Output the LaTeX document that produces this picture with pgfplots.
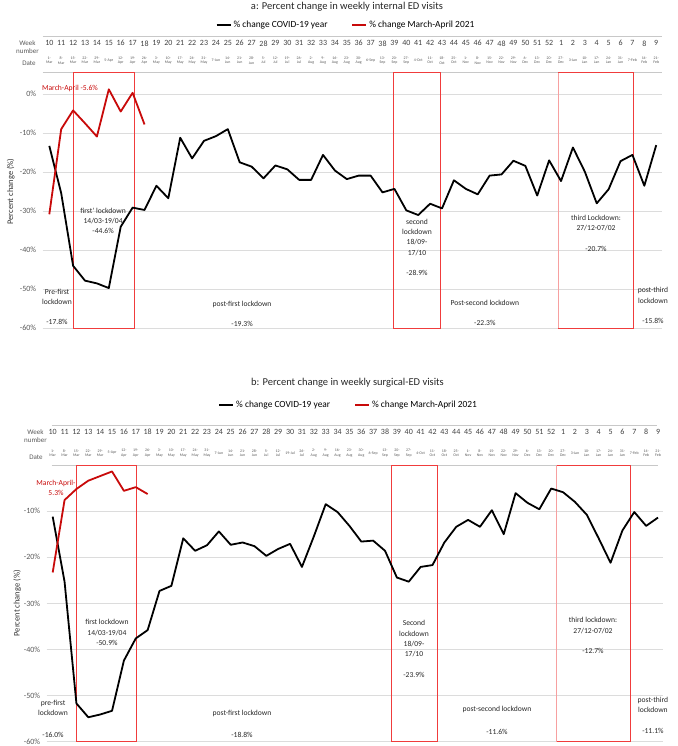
\documentclass[border=0pt]{standalone}
\usepackage{pgfplots}
\pgfplotsset{compat=1.18}
\usepackage{pgfplotstable}
\usepackage{fontspec}
\setmainfont{Carlito}

\definecolor{covidred}{HTML}{C80A0A}
\definecolor{boxred}{HTML}{F03C3C}
\definecolor{boxpink}{HTML}{F7A0A0}
\definecolor{gridgray}{HTML}{DCDCDC}
\definecolor{txtgray}{HTML}{595959}
\definecolor{hdrgray}{HTML}{C8C8C8}

% week index 0 = week 10 (1 Mar 2020) ... 51 = week 9 (21 Feb 2021)
\pgfplotstableread{
i  pct
0  -13.3
1  -25.4
2  -44.0
3  -47.8
4  -48.5
5  -49.7
6  -34.0
7  -29.1
8  -29.7
9  -23.5
10 -26.7
11 -11.2
12 -16.5
13 -12.0
14 -10.8
15 -9.0
16 -17.5
17 -18.6
18 -21.6
19 -18.3
20 -19.3
21 -22.0
22 -22.0
23 -15.6
24 -19.6
25 -21.8
26 -20.9
27 -20.9
28 -25.2
29 -24.3
30 -29.8
31 -31.0
32 -28.1
33 -29.3
34 -22.1
35 -24.3
36 -25.7
37 -20.9
38 -20.6
39 -17.1
40 -18.4
41 -26.0
42 -17.0
43 -22.3
44 -13.7
45 -19.9
46 -28.0
47 -24.4
48 -17.2
49 -15.6
50 -23.5
51 -13.1
}\internalcovid

\pgfplotstableread{
i  pct
0  -30.8
1  -9.0
2  -4.2
3  -7.5
4  -10.9
5  1.2
6  -4.5
7  0.3
8  -7.8
}\internalnew

\pgfplotstableread{
i  pct
0  -11.2
1  -25.3
2  -51.7
3  -54.7
4  -54.1
5  -53.3
6  -42.4
7  -37.6
8  -35.8
9  -27.3
10 -26.2
11 -15.9
12 -18.6
13 -17.4
14 -14.4
15 -17.3
16 -16.8
17 -17.6
18 -19.7
19 -18.2
20 -17.1
21 -22.1
22 -15.5
23 -8.5
24 -10.2
25 -13.2
26 -16.6
27 -16.4
28 -18.6
29 -24.4
30 -25.3
31 -22.1
32 -21.7
33 -16.8
34 -13.4
35 -11.9
36 -13.4
37 -9.8
38 -15.0
39 -6.1
40 -8.2
41 -9.6
42 -5.1
43 -5.9
44 -8.0
45 -10.8
46 -15.9
47 -21.2
48 -14.2
49 -10.2
50 -13.2
51 -11.4
}\surgicalcovid

\pgfplotstableread{
i  pct
0  -23.3
1  -7.6
2  -5.2
3  -3.4
4  -2.4
5  -1.4
6  -5.6
7  -4.8
8  -6.3
}\surgicalnew

\pgfplotsset{
  base/.style={
    scale only axis, clip=false,
    axis line style={draw=none},
    major tick length=0pt,
    xtick={0,...,51},
    xticklabel pos=upper,
  },
  mainaxis/.style={
    base,
    ymin=-60,
    yticklabel style={font=\fontsize{8}{9}\selectfont, text=txtgray, xshift=-3pt},
    ymajorgrids, grid style={gridgray, line width=0.9pt},
    xticklabel style={font=\fontsize{3.9}{4.4}\selectfont, text=txtgray, align=center, anchor=center},
    ylabel={Percent change (\%)},
    ylabel style={font=\fontsize{8.5}{10}\selectfont, text=black!80},
    legend columns=2,
    legend style={draw=none, fill=none, font=\fontsize{9.4}{11}\selectfont,
      /tikz/every even column/.append style={column sep=22pt}},
    legend image code/.code={\draw[#1] (0pt,0pt) -- (14pt,0pt);},
  },
  weekaxis/.style={
    base,
    ymin=0, ymax=1, ytick=\empty,
    xticklabel style={font=\fontsize{8}{9}\selectfont, text=black!75, anchor=center},
    xticklabels={10,11,12,13,14,15,16,17,18,19,20,21,22,23,24,25,26,27,28,29,30,31,
      32,33,34,35,36,37,38,39,40,41,42,43,44,45,46,47,48,49,50,51,52,1,2,3,4,5,6,7,8,9},
  },
  covid/.style={black, line width=1.8pt, line join=round},
  recent/.style={covidred, line width=1.8pt, line join=round},
}
\tikzset{
  lockbox/.style={boxred, line width=0.7pt},
  note/.style={font=\fontsize{7.6}{10.3}\selectfont, align=center, text=black!85},
}

\begin{document}
\begin{tikzpicture}
\path[use as bounding box] (0pt,0pt) rectangle (677pt,-746pt);

% ---------------- panel a ----------------
\node[font=\fontsize{10.5}{12}\selectfont, text=black!85] at (347pt,-7pt)
  {a: Percent change in weekly internal ED visits};
\draw[hdrgray, line width=0.9pt] (42.7pt,-36pt) -- (661.7pt,-36pt);
\draw[hdrgray, line width=0.9pt] (42.7pt,-72.7pt) -- (661.7pt,-72.7pt);
\node[font=\fontsize{7}{8}\selectfont, text=txtgray, align=center] at (27.5pt,-47pt) {Week\\number};
\node[font=\fontsize{7}{8}\selectfont, text=txtgray] at (29pt,-63pt) {Date};

\begin{axis}[weekaxis, at={(42.7pt,-328.3pt)}, anchor=south west,
  width=619pt, height=255.6pt, xmin=-0.555, xmax=51.46,
  xticklabel style={yshift=29.4pt}]
\end{axis}

\begin{axis}[mainaxis, at={(42.7pt,-328.3pt)}, anchor=south west,
  width=619pt, height=255.6pt, xmin=-0.555, xmax=51.46, ymax=5.45,
  ytick={0,-10,-20,-30,-40,-50,-60},
  yticklabels={0\%,-10\%,-20\%,-30\%,-40\%,-50\%,-60\%},
  xticklabels={{1-\\Mar},{8-\\Mar},{15-\\Mar},{22-\\Mar},{29-\\Mar},{5-Apr},{12-\\Apr},{19-\\Apr},{26-\\Apr},
    {3-\\May},{10-\\May},{17-\\May},{24-\\May},{31-\\May},{7-Jun},{14-\\Jun},{21-\\Jun},{28-\\Jun},
    {5-\\Jul},{12-\\Jul},{19-\\Jul},{26-\\Jul},{2-\\Aug},{9-\\Aug},{16-\\Aug},{23-\\Aug},{30-\\Aug},
    {6-Sep},{13-\\Sep},{20-\\Sep},{27-\\Sep},{4-Oct},{11-\\Oct},{18-\\Oct},{25-\\Oct},
    {1-\\Nov},{8-\\Nov},{15-\\Nov},{22-\\Nov},{29-\\Nov},{6-\\Dec},{13-\\Dec},{20-\\Dec},{27-\\Dec},
    {3-Jan},{10-\\Jan},{17-\\Jan},{24-\\Jan},{31-\\Jan},{7-Feb},{14-\\Feb},{21-\\Feb}},
  xticklabel style={yshift=12.2pt},
  ylabel style={at={(ticklabel cs:0.535,-1.5pt)}},
  legend style={at={(0.49,1.187)}, anchor=center}]

\draw[lockbox] (axis cs:2.02,5.45) rectangle (axis cs:7.14,-60);
\draw[lockbox] (axis cs:28.9,5.45) rectangle (axis cs:32.9,-60);
\draw[lockbox] (axis cs:42.8,5.45) rectangle (axis cs:49.08,-60);
\draw[boxpink, line width=0.7pt] (axis cs:42.8,5.45) -- (axis cs:42.8,-60);

\addplot[covid] table[x=i, y=pct] {\internalcovid};
\addlegendentry{\% change COVID-19 year}
\addplot[recent] table[x=i, y=pct] {\internalnew};
\addlegendentry{\% change March-April 2021}

\node[note, text=covidred] at (axis cs:1.74,1.46) {March-April -5.6\%};
\node[note] at (axis cs:0.65,-51.9) {Pre-first\\lockdown};
\node[note] at (axis cs:0.65,-58.3) {-17.8\%};
\node[note] at (axis cs:4.52,-32.5) {first' lockdown\\14/03-19/04\\-44.6\%};
\node[note] at (axis cs:16.2,-53.8) {post-first lockdown};
\node[note] at (axis cs:16.2,-58.9) {-19.3\%};
\node[note] at (axis cs:30.9,-39.3) {second\\lockdown\\18/09-\\17/10\\[10.3pt]-28.9\%};
\node[note] at (axis cs:36.6,-53.5) {Post-second lockdown};
\node[note] at (axis cs:36.6,-58.6) {-22.3\%};
\node[note] at (axis cs:45.94,-35.7) {third Lockdown:\\27/12-07/02\\[10.3pt]-20.7\%};
\node[note] at (axis cs:50.73,-54.2) {post-third\\lockdown\\[10.3pt]-15.8\%};
\end{axis}

% ---------------- panel b ----------------
\node[font=\fontsize{10.5}{12}\selectfont, text=black!85] at (347.5pt,-383pt)
  {b: Percent change in weekly surgical-ED visits};
\draw[hdrgray, line width=0.9pt] (51.7pt,-425pt) -- (657pt,-425pt);
\node[font=\fontsize{7}{8}\selectfont, text=txtgray, align=center] at (35.5pt,-436pt) {Week\\number};
\node[font=\fontsize{7}{8}\selectfont, text=txtgray] at (36pt,-457.3pt) {Date};

\begin{axis}[weekaxis, at={(46.7pt,-741.7pt)}, anchor=south west,
  width=616.3pt, height=276.7pt, xmin=-0.505, xmax=51.42,
  xticklabel style={yshift=33.3pt}]
\end{axis}

\begin{axis}[mainaxis, at={(46.7pt,-741.7pt)}, anchor=south west,
  width=616.3pt, height=276.7pt, xmin=-0.505, xmax=51.42, ymax=0,
  ytick={-10,-20,-30,-40,-50,-60},
  yticklabels={-10\%,-20\%,-30\%,-40\%,-50\%,-60\%},
  xticklabels={{1-\\Mar},{8-\\Mar},{15-\\Mar},{22-\\Mar},{29-\\Mar},{5-Apr},{12-\\Apr},{19-\\Apr},{26-\\Apr},
    {3-\\May},{10-\\May},{17-\\May},{24-\\May},{31-\\May},{7-Jun},{14-\\Jun},{21-\\Jun},{28-\\Jun},
    {5-\\Jul},{12-\\Jul},{19-Jul},{26-\\Jul},{2-\\Aug},{9-\\Aug},{16-\\Aug},{23-\\Aug},{30-\\Aug},
    {6-Sep},{13-\\Sep},{20-\\Sep},{27-\\Sep},{4-Oct},{11-\\Oct},{18-\\Oct},{25-\\Oct},
    {1-\\Nov},{8-\\Nov},{15-\\Nov},{22-\\Nov},{29-\\Nov},{6-\\Dec},{13-\\Dec},{20-\\Dec},{27-\\Dec},
    {3-Jan},{10-\\Jan},{17-\\Jan},{24-\\Jan},{31-\\Jan},{7-Feb},{14-\\Feb},{21-\\Feb}},
  xticklabel style={yshift=12pt},
  ylabel style={at={(ticklabel cs:0.5,-4pt)}},
  legend style={at={(0.49,1.217)}, anchor=center}]

\draw[hdrgray, line width=0.9pt] (axis cs:-0.1,0) -- (axis cs:51.0,0);
\draw[lockbox] (axis cs:2.02,0) rectangle (axis cs:7.08,-60);
\draw[lockbox] (axis cs:28.5,0) rectangle (axis cs:32.4,-60);
\draw[lockbox] (axis cs:42.46,0) rectangle (axis cs:48.7,-60);
\draw[boxpink, line width=0.7pt] (axis cs:42.46,0) -- (axis cs:42.46,-60);

\addplot[covid] table[x=i, y=pct] {\surgicalcovid};
\addlegendentry{\% change COVID-19 year}
\addplot[recent] table[x=i, y=pct] {\surgicalnew};
\addlegendentry{\% change March-April 2021}

\node[note, text=covidred] at (axis cs:0.28,-5.0) {March-April-\\5.3\%};
\node[note] at (axis cs:0.03,-52.6) {pre-first\\lockdown};
\node[note] at (axis cs:0.03,-58.6) {-16.0\%};
\node[note] at (axis cs:4.57,-36.3) {first lockdown\\14/03-19/04\\-50.9\%};
\node[note] at (axis cs:15.95,-53.8) {post-first lockdown};
\node[note] at (axis cs:15.95,-58.6) {-18.8\%};
\node[note] at (axis cs:30.44,-39.9) {Second\\lockdown\\18/09-\\17/10\\[10.3pt]-23.9\%};
\node[note] at (axis cs:37.43,-53.1) {post-second lockdown};
\node[note] at (axis cs:37.43,-57.9) {-11.6\%};
\node[note] at (axis cs:45.52,-37.0) {third lockdown:\\27/12-07/02\\[10.3pt]-12.7\%};
\node[note] at (axis cs:50.57,-54.2) {post-third\\lockdown\\[10.3pt]-11.1\%};
\end{axis}
\end{tikzpicture}
\end{document}
